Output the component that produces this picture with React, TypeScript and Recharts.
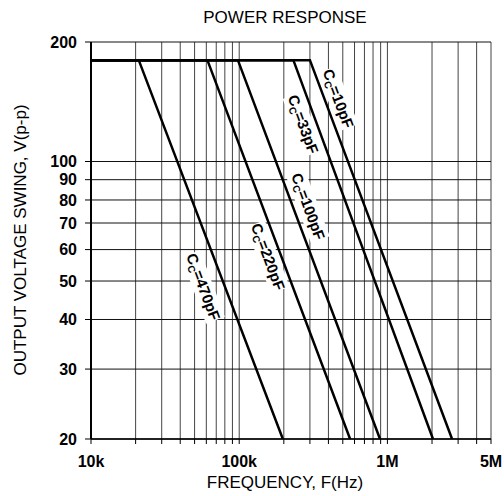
import { LineChart, Line, XAxis, YAxis, CartesianGrid, ReferenceDot } from 'recharts'

const X_TICKS = [
  10000, 20000, 30000, 40000, 50000, 60000, 70000, 80000, 90000,
  100000, 200000, 300000, 400000, 500000, 600000, 700000, 800000, 900000,
  1000000, 2000000, 3000000, 4000000, 5000000,
]
const X_LABELS: Record<number, string> = { 10000: '10k', 100000: '100k', 1000000: '1M', 5000000: '5M' }
const Y_TICKS = [20, 30, 40, 50, 60, 70, 80, 90, 100, 200]

// compensation caps, flat swing level, where each curve starts rolling off and where it hits 20 V
const CAPS = ['10pF', '33pF', '100pF', '220pF', '470pF']
const START_F = 10000
const FLAT_V = 180
const END_V = 20
const BREAK_F = [300000, 232000, 98000, 61000, 21000]
const END_F = [2730000, 2030000, 891000, 560000, 197000]

// where the rotated "Cc=..." tags sit
const TAG_F = [464000, 269000, 291000, 156000, 57000]
const TAG_V = [144, 124, 77, 57.5, 48.3]

const FONT = '"Liberation Sans", Arial, sans-serif'

type Pt = { f: number; v: number }

const series: Pt[][] = CAPS.map((_, i) => [
  { f: START_F, v: FLAT_V },
  { f: BREAK_F[i], v: FLAT_V },
  { f: END_F[i], v: END_V },
])

function CapTag({ cx, cy, name }: { cx?: number; cy?: number; name: string }) {
  if (cx == null || cy == null) return null
  const w = 10 + name.length * 9 + 16
  return (
    <g transform={`translate(${cx},${cy}) rotate(69.5)`}>
      <rect x={-w / 2} y={-10} width={w} height={20} fill="#fff" />
      <text
        textAnchor="middle"
        y={5}
        fontFamily={FONT}
        fontWeight="bold"
        fontSize={15}
        fill="#000"
      >
        C<tspan fontSize={10} dy={3}>C</tspan>
        <tspan dy={-3}>={name}</tspan>
      </text>
    </g>
  )
}

export default function App() {
  return (
    <div style={{ position: 'absolute', left: 0, top: 0, width: 504, height: 496, background: '#fff', fontFamily: FONT }}>
      <div style={{ position: 'absolute', top: 8, left: 185, width: 200, textAlign: 'center', fontSize: 17 }}>
        POWER RESPONSE
      </div>
      <div style={{ position: 'absolute', top: 473, left: 185, width: 200, textAlign: 'center', fontSize: 17 }}>
        FREQUENCY, F(Hz)
      </div>
      <div
        style={{
          position: 'absolute',
          left: 21,
          top: 240,
          width: 360,
          marginLeft: -180,
          marginTop: -10,
          textAlign: 'center',
          fontSize: 17,
          lineHeight: '20px',
          transform: 'rotate(-90deg)',
          whiteSpace: 'nowrap',
        }}
      >
        OUTPUT VOLTAGE SWING, V(p-p)
      </div>
      <LineChart width={504} height={496} margin={{ top: 42, right: 13, bottom: 27, left: 31 }}>
        <CartesianGrid horizontal={false} stroke="#444" strokeWidth={1} />
        <CartesianGrid vertical={false} stroke="#111" strokeWidth={1} />
        <XAxis
          dataKey="f"
          type="number"
          scale="log"
          domain={[10000, 5000000]}
          ticks={X_TICKS}
          interval={0}
          allowDataOverflow
          tickFormatter={(v: number) => X_LABELS[v] ?? ''}
          tick={{ fontSize: 16, fontWeight: 'bold', fill: '#000', fontFamily: FONT }}
          tickSize={5}
          tickMargin={12}
          height={30}
          axisLine={{ stroke: '#000', strokeWidth: 1.5 }}
          tickLine={{ stroke: '#000' }}
        />
        <YAxis
          dataKey="v"
          type="number"
          scale="log"
          domain={[20, 200]}
          ticks={Y_TICKS}
          interval={0}
          allowDataOverflow
          tick={{ fontSize: 16, fontWeight: 'bold', fill: '#000', fontFamily: FONT }}
          tickSize={6}
          tickMargin={8}
          width={60}
          axisLine={{ stroke: '#000', strokeWidth: 2 }}
          tickLine={{ stroke: '#000' }}
        />
        {series.map((d, i) => (
          <Line
            key={CAPS[i]}
            data={d}
            dataKey="v"
            type="linear"
            stroke="#000"
            strokeWidth={2.5}
            dot={false}
            activeDot={false}
            isAnimationActive={false}
          />
        ))}
        {CAPS.map((c, i) => (
          <ReferenceDot
            key={'tag' + c}
            x={TAG_F[i]}
            y={TAG_V[i]}
            r={0}
            ifOverflow="visible"
            shape={(p: any) => <CapTag cx={p.cx} cy={p.cy} name={c} />}
          />
        ))}
      </LineChart>
    </div>
  )
}
